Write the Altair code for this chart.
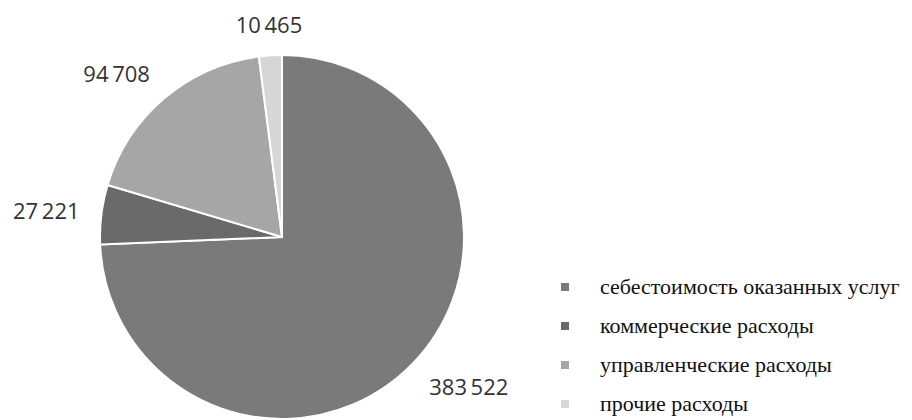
import altair as alt
import pandas as pd

categories = [
    "себестоимость оказанных услуг",
    "коммерческие расходы",
    "управленческие расходы",
    "прочие расходы",
]
values = [383522, 27221, 94708, 10465]
colors = ["#7a7a7a", "#6a6a6a", "#a6a6a6", "#d6d6d6"]

labels = [f"{v:,}".replace(",", "\u2009") for v in values]
total = sum(values)

df = pd.DataFrame({
    "cat": categories,
    "value": values,
    "label": labels,
    "idx": list(range(len(values))),
})

CX, CY, R = 274, 229, 182

color_enc = alt.Color(
    "cat:N",
    scale=alt.Scale(domain=categories, range=colors),
    legend=alt.Legend(
        title=None,
        orient="none",
        legendX=546,
        legendY=268,
        symbolType="square",
        symbolSize=64,
        symbolStrokeWidth=0,
        labelFont="Liberation Serif",
        labelFontSize=22,
        labelColor="#111111",
        labelOffset=24,
        rowPadding=17,
        labelLimit=400,
    ),
)

pie = alt.Chart(df).mark_arc(radius=R, stroke="white", strokeWidth=2).encode(
    theta=alt.Theta("value:Q", stack=True),
    color=color_enc,
    order=alt.Order("idx:Q"),
    x=alt.value(CX),
    y=alt.value(CY),
)

base_text = alt.Chart(df).transform_window(
    cum="sum(value)", sort=[alt.SortField("idx")], frame=[None, 0]
).transform_calculate(
    ang=f"2*PI*(datum.cum - datum.value/2)/{total}"
)

placements = [
    ("left", "top"),            # 383 522
    ("right", "middle"),        # 27 221
    ("right", "alphabetic"),    # 94 708
    ("center", "alphabetic"),   # 10 465
]

layers = [pie]
for i, (al, bl) in enumerate(placements):
    layers.append(
        base_text.transform_filter(f"datum.idx == {i}").mark_text(
            radius=R + 22,
            align=al,
            baseline=bl,
            font="Open Sans",
            fontSize=22,
            color="#333333",
        ).encode(
            theta=alt.Theta("ang:Q", scale=None),
            text="label:N",
            x=alt.value(CX),
            y=alt.value(CY),
        )
    )

chart = alt.layer(*layers).properties(
    width=896,
    height=412,
    padding=0,
    autosize=alt.AutoSizeParams(type="none"),
).configure_view(stroke=None)

chart.save("out.html", embed_options={"renderer": "svg", "actions": False})
